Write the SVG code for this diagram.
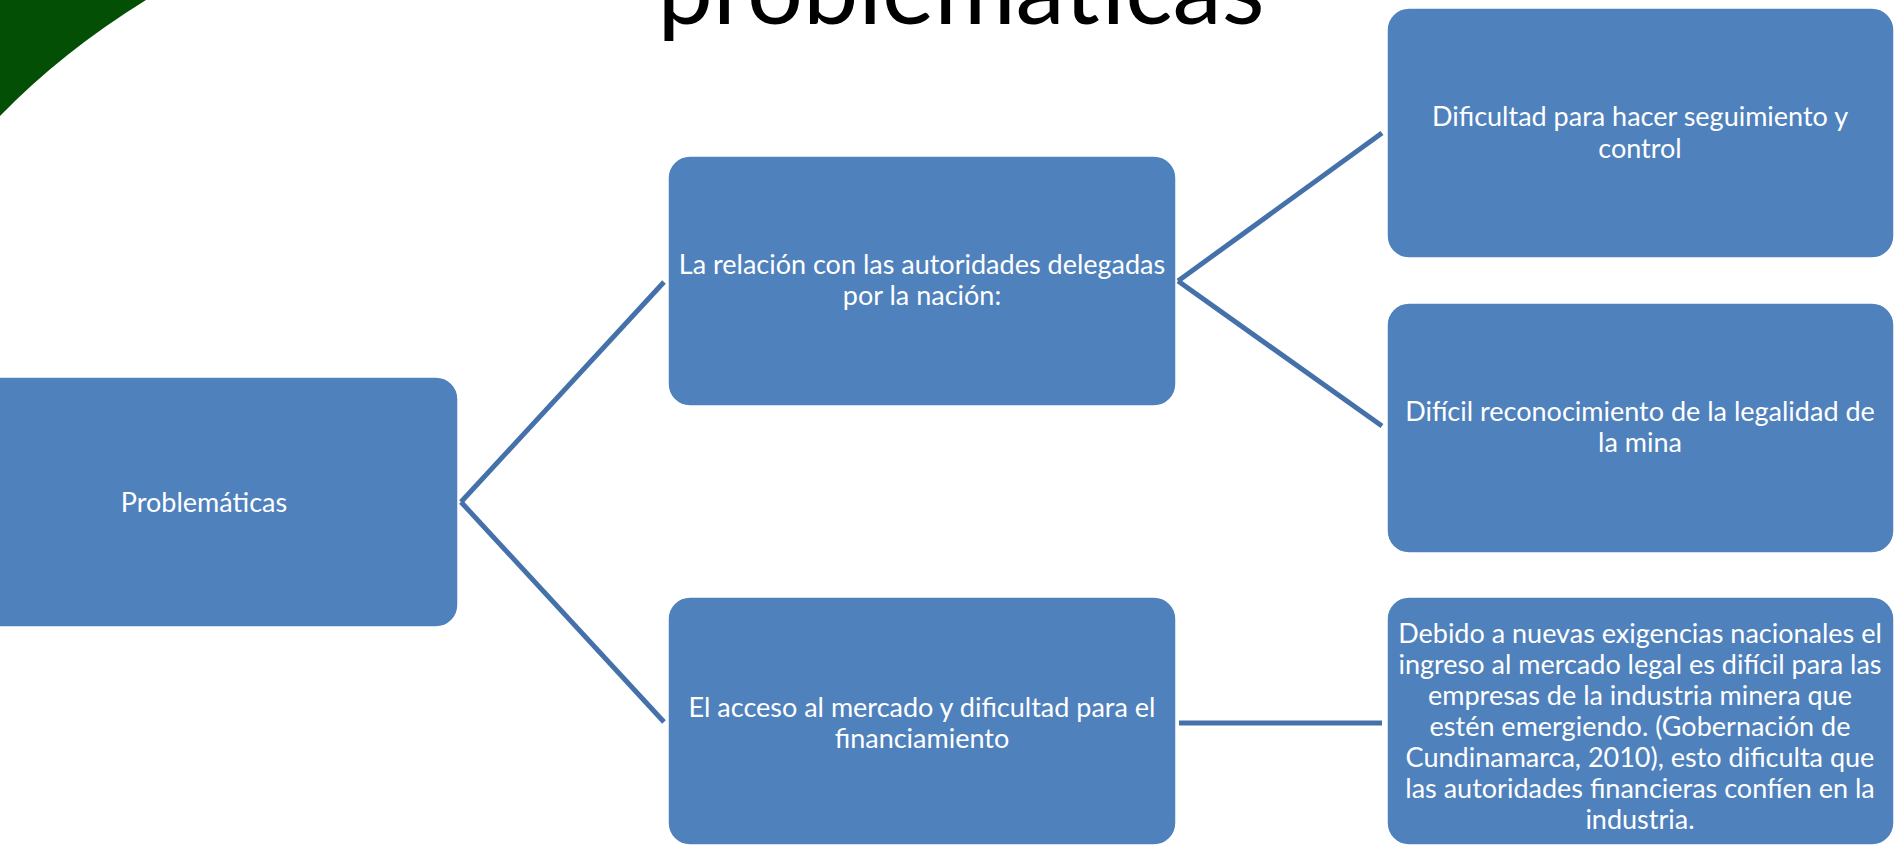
<svg xmlns="http://www.w3.org/2000/svg" width="1895" height="846" viewBox="0 0 1895 846">
  <style>
    .box { fill: #4F81BD; stroke: #FFFFFF; stroke-width: 1.5; }
    .lbl { font-family: Lato, "Open Sans", "Liberation Sans", sans-serif; font-size: 27px; fill: #FFFFFF; text-anchor: middle; }
    .con { stroke: #4571AA; stroke-width: 5; fill: none; stroke-linecap: butt; }
    .title { font-family: Lato, "Open Sans", "Liberation Sans", sans-serif; font-size: 99px; fill: #000000; text-anchor: middle; }
  </style>
  <rect x="0" y="0" width="1895" height="846" fill="#FFFFFF"/>
  <path d="M0,0 L146,0 Q62,52 0,116 Z" fill="#034F05"/>
  <text class="title" x="961" y="24">problemáticas</text>

  <g id="connectors">
    <line class="con" x1="461" y1="502" x2="664" y2="282"/>
    <line class="con" x1="461" y1="502" x2="664" y2="722"/>
    <line class="con" x1="1178" y1="281" x2="1382" y2="133"/>
    <line class="con" x1="1178" y1="281" x2="1382" y2="426"/>
    <line class="con" x1="1179" y1="723" x2="1382" y2="723"/>
  </g>

  <g id="node-problematicas">
    <rect class="box" x="-50" y="377" width="508" height="250" rx="22"/>
    <text class="lbl" x="204" y="512">Problemáticas</text>
  </g>

  <g id="node-relacion">
    <rect class="box" x="668" y="156" width="508" height="250" rx="22"/>
    <text class="lbl" x="922" y="274">La relación con las autoridades delegadas</text>
    <text class="lbl" x="922" y="305">por la nación:</text>
  </g>

  <g id="node-acceso">
    <rect class="box" x="668" y="597" width="508" height="248" rx="22"/>
    <text class="lbl" x="922" y="717">El acceso al mercado y dificultad para el</text>
    <text class="lbl" x="922" y="748">financiamiento</text>
  </g>

  <g id="node-seguimiento">
    <rect class="box" x="1387" y="8" width="507" height="250" rx="22"/>
    <text class="lbl" x="1640" y="126">Dificultad para hacer seguimiento y</text>
    <text class="lbl" x="1640" y="158">control</text>
  </g>

  <g id="node-legalidad">
    <rect class="box" x="1387" y="303" width="507" height="250" rx="22"/>
    <text class="lbl" x="1640" y="421">Difícil reconocimiento de la legalidad de</text>
    <text class="lbl" x="1640" y="452">la mina</text>
  </g>

  <g id="node-exigencias">
    <rect class="box" x="1387" y="597" width="507" height="248" rx="22"/>
    <text class="lbl" x="1640" y="643">Debido a nuevas exigencias nacionales el</text>
    <text class="lbl" x="1640" y="674">ingreso al mercado legal es difícil para las</text>
    <text class="lbl" x="1640" y="705">empresas de la industria minera que</text>
    <text class="lbl" x="1640" y="736">estén emergiendo. (Gobernación de</text>
    <text class="lbl" x="1640" y="767">Cundinamarca, 2010), esto dificulta que</text>
    <text class="lbl" x="1640" y="798">las autoridades financieras confíen en la</text>
    <text class="lbl" x="1640" y="829">industria.</text>
  </g>
</svg>
